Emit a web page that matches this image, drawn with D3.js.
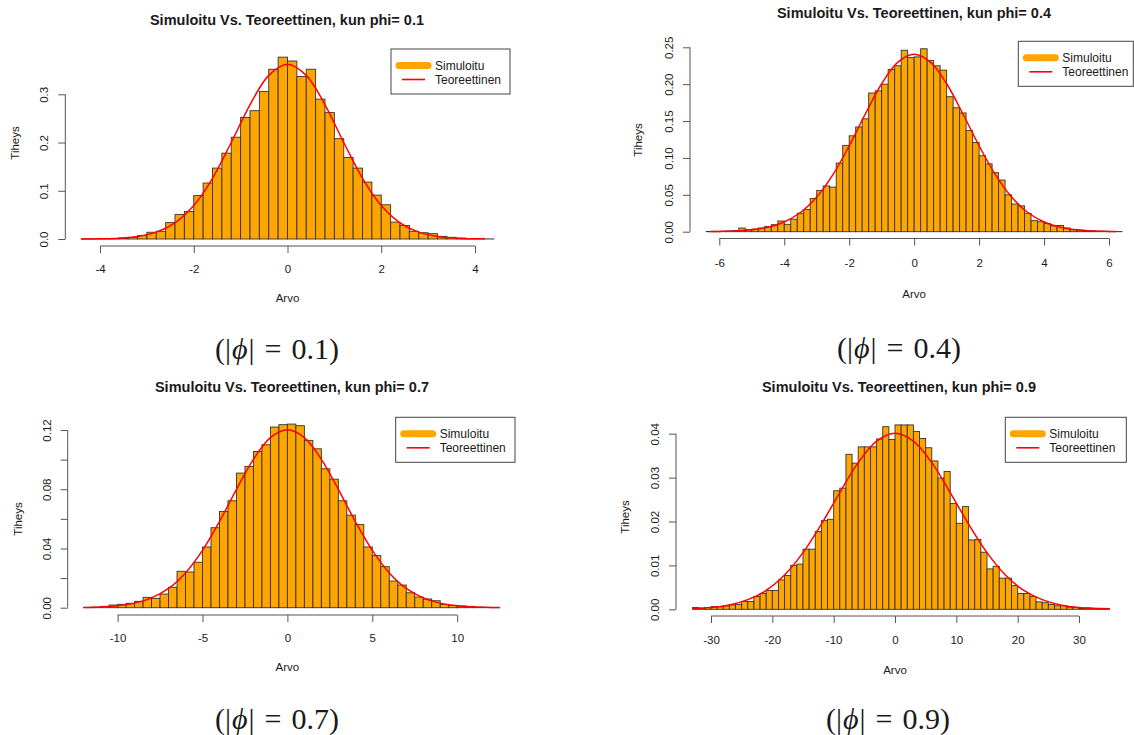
<!DOCTYPE html>
<html>
<head>
<meta charset="utf-8">
<script src="https://cdn.jsdelivr.net/npm/d3@7"></script>
<style>
  html, body { margin: 0; padding: 0; background: #fff; }
  svg { display: block; }
  text { font-family: "Liberation Sans", Arial, sans-serif; fill: #1a1a1a; }
</style>
</head>
<body>
<svg id="chart" width="1134" height="735"></svg>
<script>
// ---- Data -------------------------------------------------------------
const phiValues = ["0.1", "0.4", "0.7", "0.9"];
const titleText = "Simuloitu Vs. Teoreettinen, kun phi= ";
const legendLabels = ["Simuloitu", "Teoreettinen"];
const xAxisTitle = "Arvo";
const yAxisTitle = "Tiheys";

// phi = 0.1 : histogram (bins of width 0.2 starting at -4.4)
const p1BinStart = -4.4, p1BinWidth = 0.2;
const p1Density = [
  0.0003, 0.0003, 0.0005, 0.001, 0.002, 0.0035, 0.007, 0.014, 0.016, 0.034, 0.051,
  0.057, 0.090, 0.116, 0.147, 0.178, 0.211, 0.252, 0.266, 0.306, 0.352, 0.377,
  0.369, 0.337, 0.352, 0.290, 0.262, 0.208, 0.169, 0.147, 0.118, 0.091, 0.071,
  0.035, 0.028, 0.016, 0.013, 0.011, 0.0055, 0.0035, 0.002, 0.001, 0.0005, 0.0002
];
const p1CurveX = [-4.4, -4.0, -3.6, -3.2, -2.8, -2.4, -2.0, -1.6, -1.2, -0.8, -0.4, 0,
  0.4, 0.8, 1.2, 1.6, 2.0, 2.4, 2.8, 3.2, 3.6, 4.0, 4.2];
const p1CurveY = [0.0001, 0.0005, 0.0017, 0.0053, 0.0142, 0.0336, 0.0694, 0.1259, 0.2000, 0.2783, 0.3393, 0.3625,
  0.3393, 0.2783, 0.2000, 0.1259, 0.0694, 0.0336, 0.0142, 0.0053, 0.0017, 0.0005, 0.0003];
const p1XTicks = [-4, -2, 0, 2, 4];
const p1YTicks = [0, 0.1, 0.2, 0.3];
const p1YLabels = ["0.0", "0.1", "0.2", "0.3"];

// phi = 0.4 : histogram (bins of width 0.2 starting at -6.4)
const p2BinStart = -6.4, p2BinWidth = 0.2;
const p2Density = [
  0.0003, 0.0005, 0.0005, 0.001, 0.0014, 0.005, 0.0027, 0.0036, 0.005, 0.007,
  0.0095, 0.0145, 0.010, 0.017, 0.025, 0.030, 0.045, 0.056, 0.062, 0.0605, 0.093,
  0.117, 0.130, 0.142, 0.153, 0.188, 0.191, 0.200, 0.220, 0.225, 0.246,
  0.236, 0.237, 0.248, 0.232, 0.225, 0.219, 0.183, 0.168, 0.161, 0.137, 0.121,
  0.103, 0.092, 0.080, 0.070, 0.050, 0.0375, 0.035, 0.025, 0.015, 0.0135, 0.011,
  0.008, 0.0085, 0.005, 0.0027, 0.002, 0.0014, 0.001, 0.0007, 0.0005, 0.0003, 0.0002
];
const p2CurveX = [-6.3, -6.0, -5.5, -5.0, -4.5, -4.0, -3.5, -3.0, -2.5, -2.0, -1.5, -1.0, -0.5, 0,
  0.5, 1.0, 1.5, 2.0, 2.5, 3.0, 3.5, 4.0, 4.5, 5.0, 5.5, 6.0, 6.2];
const p2CurveY = [0.0002, 0.0004, 0.0010, 0.0026, 0.0061, 0.0132, 0.0260, 0.0470, 0.0774, 0.1164, 0.1599, 0.2006, 0.2298, 0.2405,
  0.2298, 0.2006, 0.1599, 0.1164, 0.0774, 0.0470, 0.0260, 0.0132, 0.0061, 0.0026, 0.0010, 0.0004, 0.0002];
const p2XTicks = [-6, -4, -2, 0, 2, 4, 6];
const p2YTicks = [0, 0.05, 0.10, 0.15, 0.20, 0.25];
const p2YLabels = ["0.00", "0.05", "0.10", "0.15", "0.20", "0.25"];

// phi = 0.7 : histogram (bins of width 0.5 starting at -12)
const p3BinStart = -12, p3BinWidth = 0.5;
const p3Density = [
  0.0002, 0.0004, 0.0009, 0.0018, 0.0023, 0.003, 0.0043, 0.007, 0.0063, 0.0092, 0.0138, 0.0246,
  0.0241, 0.0307, 0.041, 0.054, 0.065, 0.0722, 0.0909, 0.0954, 0.1055, 0.110, 0.122, 0.1236,
  0.124, 0.1229, 0.113, 0.1073, 0.0938, 0.0868, 0.0722, 0.0625, 0.0561, 0.041, 0.0352, 0.0277,
  0.018, 0.0153, 0.0101, 0.0072, 0.0059, 0.0047, 0.0023, 0.0016, 0.0011, 0.0009, 0.0004, 0.0002, 0.0001
];
const p3CurveX = [-12, -11, -10, -9, -8, -7, -6, -5, -4, -3, -2, -1, 0,
  1, 2, 3, 4, 5, 6, 7, 8, 9, 10, 11, 12, 12.5];
const p3CurveY = [0.0002, 0.0005, 0.0013, 0.0031, 0.0066, 0.0130, 0.0235, 0.0387, 0.0582, 0.0799, 0.1002, 0.1149, 0.1202,
  0.1149, 0.1002, 0.0799, 0.0582, 0.0387, 0.0235, 0.0130, 0.0066, 0.0031, 0.0013, 0.0005, 0.0002, 0.0001];
const p3XTicks = [-10, -5, 0, 5, 10];
const p3YTicks = [0, 0.02, 0.04, 0.06, 0.08, 0.10, 0.12];
const p3YLabels = ["0.00", "", "0.04", "", "0.08", "", "0.12"];

// phi = 0.9 : histogram (bins of width 1 starting at -33)
const p4BinStart = -33, p4BinWidth = 1;
const p4Density = [
  0.0004, 0.0002, 0.0004, 0.0006, 0.0006, 0.0008, 0.001, 0.0011, 0.0018, 0.0018, 0.0029,
  0.0036, 0.0043, 0.0043, 0.0067, 0.0077, 0.010, 0.0103, 0.0137, 0.0137, 0.0177, 0.0202,
  0.0205, 0.027, 0.0276, 0.0353, 0.0333, 0.037, 0.037, 0.037, 0.0388, 0.0416, 0.0387,
  0.042, 0.042, 0.042, 0.0405, 0.0389, 0.0368, 0.0338, 0.0299, 0.0314, 0.0241, 0.0196, 0.0234,
  0.0158, 0.0159, 0.013, 0.0092, 0.0098, 0.0071, 0.0071, 0.0054, 0.0036, 0.0036, 0.0029,
  0.0017, 0.0015, 0.0011, 0.0008, 0.0008, 0.0005, 0.0004, 0.0002, 0.0003, 0.0002, 0.0001, 0.0001
];
const p4CurveX = [-33, -30, -27, -24, -21, -18, -15, -12, -9, -6, -3, 0,
  3, 6, 9, 12, 15, 18, 21, 24, 27, 30, 33, 35];
const p4CurveY = [0.0002, 0.0004, 0.0010, 0.0022, 0.0043, 0.0078, 0.0129, 0.0194, 0.0266, 0.0334, 0.0383, 0.0401,
  0.0383, 0.0334, 0.0266, 0.0194, 0.0129, 0.0078, 0.0043, 0.0022, 0.0010, 0.0004, 0.0002, 0.0001];
const p4XTicks = [-30, -20, -10, 0, 10, 20, 30];
const p4YTicks = [0, 0.01, 0.02, 0.03, 0.04];
const p4YLabels = ["0.00", "0.01", "0.02", "0.03", "0.04"];

// ---- Panel layout -----------------------------------------------------
const panels = [
  { phi: phiValues[0], binStart: p1BinStart, binWidth: p1BinWidth, density: p1Density,
    curveX: p1CurveX, curveY: p1CurveY, xTicks: p1XTicks, yTicks: p1YTicks, yLabels: p1YLabels,
    xDomain: [-4, 4], xRange: [100, 475], yDomain: [0, 0.3], yRange: [239, 94.3],
    yAxisX: 65.3, xAxisY: 246, titleX: 287, titleY: 20, yTitleX: 15, yTitleY: 143,
    tickLabelY: 269, xTitleY: 298, legend: { x: 391, y: 49, w: 119 }, caption: { x: 277, y: 348 } },
  { phi: phiValues[1], binStart: p2BinStart, binWidth: p2BinWidth, density: p2Density,
    curveX: p2CurveX, curveY: p2CurveY, xTicks: p2XTicks, yTicks: p2YTicks, yLabels: p2YLabels,
    xDomain: [-6, 6], xRange: [719.3, 1109], yDomain: [0, 0.25], yRange: [231.7, 47.3],
    yAxisX: 690, xAxisY: 238.5, titleX: 914, titleY: 12.5, yTitleX: 638, yTitleY: 140,
    tickLabelY: 263, xTitleY: 293.5, legend: { x: 1018.3, y: 41.3, w: 115 }, caption: { x: 899, y: 347 } },
  { phi: phiValues[2], binStart: p3BinStart, binWidth: p3BinWidth, density: p3Density,
    curveX: p3CurveX, curveY: p3CurveY, xTicks: p3XTicks, yTicks: p3YTicks, yLabels: p3YLabels,
    xDomain: [-10, 10], xRange: [117.6, 457.2], yDomain: [0, 0.12], yRange: [607.7, 430],
    yAxisX: 67.7, xAxisY: 615, titleX: 292, titleY: 387, yTitleX: 18, yTitleY: 519,
    tickLabelY: 638, xTitleY: 667, legend: { x: 395.7, y: 417.3, w: 119.3 }, caption: { x: 277, y: 718 } },
  { phi: phiValues[3], binStart: p4BinStart, binWidth: p4BinWidth, density: p4Density,
    curveX: p4CurveX, curveY: p4CurveY, xTicks: p4XTicks, yTicks: p4YTicks, yLabels: p4YLabels,
    xDomain: [-30, 30], xRange: [711, 1079], yDomain: [0, 0.04], yRange: [609.3, 433.7],
    yAxisX: 676, xAxisY: 616, titleX: 899, titleY: 387, yTitleX: 625, yTitleY: 517,
    tickLabelY: 640, xTitleY: 670, legend: { x: 1005.3, y: 417.3, w: 121 }, caption: { x: 888, y: 718 } }
];

const svg = d3.select("#chart");
const BAR_FILL = "#FFA500";
const BAR_STROKE = "#333333";
const CURVE_COLOR = "#FF0000";
const AXIS_COLOR = "#555555";

panels.forEach(p => {
  const g = svg.append("g");
  const x = d3.scaleLinear().domain(p.xDomain).range(p.xRange);
  const y = d3.scaleLinear().domain(p.yDomain).range(p.yRange);

  // histogram bars
  const bins = p.density.map((d, i) => ({
    lo: p.binStart + i * p.binWidth,
    hi: p.binStart + (i + 1) * p.binWidth,
    d
  }));
  g.append("g").selectAll("rect").data(bins).join("rect")
    .attr("x", b => x(b.lo))
    .attr("width", b => x(b.hi) - x(b.lo))
    .attr("y", b => y(b.d))
    .attr("height", b => y(0) - y(b.d))
    .attr("fill", BAR_FILL)
    .attr("stroke", BAR_STROKE)
    .attr("stroke-width", 0.9);

  // theoretical density curve
  const pts = p.curveX.map((v, i) => [v, p.curveY[i]]);
  g.append("path")
    .datum(pts)
    .attr("fill", "none")
    .attr("stroke", CURVE_COLOR)
    .attr("stroke-width", 1.5)
    .attr("d", d3.line().x(d => x(d[0])).y(d => y(d[1])).curve(d3.curveCatmullRom));

  // x axis (R style: line spans first to last tick, ticks outward)
  const xAxis = d3.axisBottom(x).tickValues(p.xTicks).tickSize(7).tickSizeOuter(0)
    .tickFormat(d3.format("d"));
  const xa = g.append("g").attr("transform", `translate(0,${p.xAxisY})`).call(xAxis);
  xa.select(".domain").attr("d", `M${x(p.xTicks[0])},0H${x(p.xTicks[p.xTicks.length - 1])}`)
    .attr("stroke", AXIS_COLOR);
  xa.selectAll(".tick line").attr("stroke", AXIS_COLOR);
  xa.selectAll(".tick text")
    .attr("y", p.tickLabelY - p.xAxisY).attr("dy", "0.35em")
    .style("font-family", '"Liberation Sans", Arial, sans-serif')
    .style("font-size", "11.5px").attr("fill", "#1a1a1a")
    .text(d => d < 0 ? "-" + Math.abs(d) : String(d));

  // y axis with rotated labels
  const yAxis = d3.axisLeft(y).tickValues(p.yTicks).tickSize(7).tickSizeOuter(0)
    .tickFormat((d, i) => p.yLabels[i]);
  const ya = g.append("g").attr("transform", `translate(${p.yAxisX},0)`).call(yAxis);
  ya.select(".domain").attr("d", `M0,${y(p.yTicks[0])}V${y(p.yTicks[p.yTicks.length - 1])}`)
    .attr("stroke", AXIS_COLOR);
  ya.selectAll(".tick line").attr("stroke", AXIS_COLOR);
  ya.selectAll(".tick text")
    .attr("x", null)
    .attr("text-anchor", "middle")
    .attr("transform", "translate(-21,0) rotate(-90)")
    .attr("dy", "0.35em")
    .style("font-family", '"Liberation Sans", Arial, sans-serif')
    .style("font-size", "11.5px").attr("fill", "#1a1a1a");

  // titles
  g.append("text").attr("x", p.titleX).attr("y", p.titleY).attr("dy", "0.35em")
    .attr("text-anchor", "middle").style("font-weight", "bold").style("font-size", "14.5px")
    .text(titleText + p.phi);
  g.append("text").attr("x", (p.xRange[0] + p.xRange[1]) / 2).attr("y", p.xTitleY).attr("dy", "0.35em")
    .attr("text-anchor", "middle").style("font-size", "11.5px").text(xAxisTitle);
  g.append("text").attr("transform", `translate(${p.yTitleX},${p.yTitleY}) rotate(-90)`).attr("dy", "0.35em")
    .attr("text-anchor", "middle").style("font-size", "11.5px").text(yAxisTitle);

  // legend
  const L = p.legend;
  const lg = g.append("g").attr("transform", `translate(${L.x},${L.y})`);
  lg.append("rect").attr("width", L.w).attr("height", 45)
    .attr("fill", "#fff").attr("stroke", "#444").attr("stroke-width", 1);
  lg.append("line").attr("x1", 8).attr("x2", 37).attr("y1", 16.5).attr("y2", 16.5)
    .attr("stroke", BAR_FILL).attr("stroke-width", 7).attr("stroke-linecap", "round");
  lg.append("line").attr("x1", 11).attr("x2", 34).attr("y1", 30.5).attr("y2", 30.5)
    .attr("stroke", CURVE_COLOR).attr("stroke-width", 1.6);
  legendLabels.forEach((t, i) => {
    lg.append("text").attr("x", 44).attr("y", 16.5 + i * 14).attr("dy", "0.35em")
      .style("font-size", "12px").text(t);
  });

  // caption below the panel: (|ϕ| = value), with wide spacing around "="
  const cap = g.append("text").attr("x", p.caption.x).attr("y", p.caption.y).attr("dy", "0.35em")
    .attr("text-anchor", "middle")
    .style("font-family", '"Liberation Serif", "DejaVu Serif", serif')
    .style("font-size", "30px").attr("fill", "#111");
  cap.append("tspan").text("(|");
  cap.append("tspan").attr("dx", 1).style("font-style", "italic").text("\u03D5");
  cap.append("tspan").attr("dx", 1).text("|");
  cap.append("tspan").attr("dx", 10).text("=");
  cap.append("tspan").attr("dx", 10).text(p.phi + ")");
});
</script>
</body>
</html>
